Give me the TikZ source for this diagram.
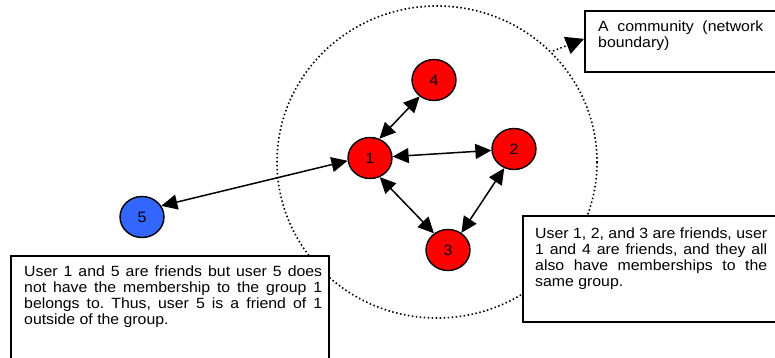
\documentclass[tikz,border=0pt]{standalone}
\usepackage{fontspec}
\setmainfont{Liberation Sans}
\newfontfamily\notefont[FakeStretch=1.07]{Liberation Sans}
\usetikzlibrary{arrows.meta,shapes.geometric}
\definecolor{userblue}{RGB}{51,102,255}
\frenchspacing
\begin{document}
\begin{tikzpicture}[x=1pt,y=-1pt,
  user/.style={ellipse, draw, line width=1.4pt, minimum width=44pt, minimum height=41pt,
    inner sep=0pt, font=\notefont\fontsize{15}{15}\selectfont},
  link/.style={{Triangle[length=16pt,width=15pt]}-{Triangle[length=16pt,width=15pt]}, line width=1.5pt},
  note/.style={draw, line width=1.7pt, fill=white, anchor=north west, inner sep=0pt},
  notetext/.style={anchor=base west, inner sep=0pt, align=justify,
    font=\notefont\fontsize{14.8}{16}\selectfont},
  boundary/.style={line width=1.6pt, dash pattern=on 1.5pt off 2.5pt}
]
\useasboundingbox (0,0) rectangle (775,358);
\clip (0,0) rectangle (775,358);

% community boundary
\draw[boundary] (437,162) ellipse [x radius=160, y radius=156];

% users
\node[user, fill=red] (n1) at (370,158) {1};
\node[user, fill=red] (n2) at (514,149) {2};
\node[user, fill=red] (n3) at (448,250) {3};
\node[user, fill=red] (n4) at (434,80) {4};
\node[user, fill=userblue] (n5) at (142,217) {5};

% friendships
\draw[link] (n1.64) -- (n4.229);
\draw[link] (n1) -- (n2);
\draw[link] (n1.297) -- (n3.130);
\draw[link] (n2.243) -- (n3.52);
\draw[link] (n1.187) -- (n5.30);

% note boxes
\node[note, minimum width=216pt, minimum height=61pt] (topbox) at (584,10) {};
\node[note, minimum width=280pt, minimum height=106pt] (rightbox) at (522,215) {};
\node[note, minimum width=318pt, minimum height=130pt] (leftbox) at (10,255) {};

% callout to the boundary
\coordinate (cb) at (553,51);
\draw[boundary, -{Triangle[length=18pt,width=18pt]}] (cb) -- ([yshift=2.5pt]topbox.west);

% note texts
\node[notetext, text width=165pt] (t3) at (598,32)
  {A community (network\linebreak boundary)};
\node[notetext, text width=232pt] (t2) at (535,238)
  {User 1, 2, and 3 are friends, user\linebreak 1 and 4 are friends, and they all\linebreak also have memberships to the\linebreak same group.};
\node[notetext, text width=298pt] (t1) at (24,276)
  {User 1 and 5 are friends but user 5 does\linebreak not have the membership to the group 1\linebreak belongs to. Thus, user 5 is a friend of 1\linebreak outside of the group.};
\end{tikzpicture}
\end{document}
